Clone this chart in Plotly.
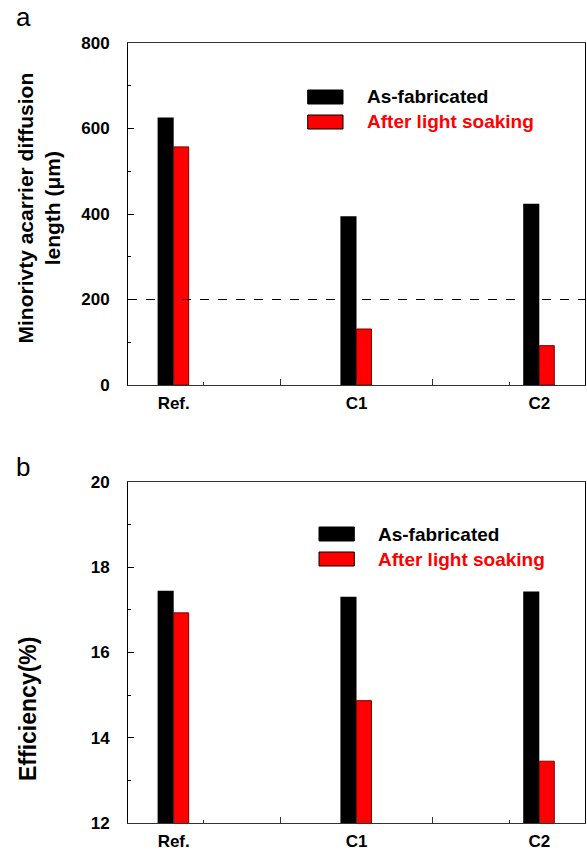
import numpy as np
import plotly.graph_objects as go

categories = ["Ref.", "C1", "C2"]
diff_as_fab = [626, 395, 424]
diff_after = [557, 131, 92]
eff_as_fab = [17.45, 17.31, 17.43]
eff_after = [16.93, 14.87, 13.45]
series_names = ["As-fabricated", "After light soaking"]
diff_ticks = [0, 200, 400, 600, 800]
eff_ticks = [12, 14, 16, 18, 20]
threshold = 200

xpos = [1, 2, 3]
W = 587
H = 853
FONT = "Liberation Sans, Arial, sans-serif"

fig = go.Figure()

def add_bars(xa, ya, black_vals, red_vals):
    fig.add_trace(go.Bar(x=xpos, y=black_vals, width=0.088, offset=-0.088,
                         marker=dict(color="black", line=dict(width=0)),
                         xaxis=xa, yaxis=ya, showlegend=False, name=series_names[0]))
    fig.add_trace(go.Bar(x=xpos, y=red_vals, width=0.082, offset=0,
                         marker=dict(color="#ff0000", line=dict(color="#7a0000", width=1)),
                         xaxis=xa, yaxis=ya, showlegend=False, name=series_names[1]))

add_bars("x", "y", diff_as_fab, diff_after)
add_bars("x2", "y2", eff_as_fab, eff_after)

dom_a = [1 - 385 / H, 1 - 43 / H]
dom_b = [1 - 823 / H, 1 - 482 / H]
xr = [0.75, 3.25]

xcommon = dict(range=xr, showline=True, linecolor="#333", linewidth=1, mirror=True,
               ticks="inside", ticklen=6, tickcolor="#333",
               tickvals=[1, 1.585, 2, 2.416, 3],
               ticktext=["Ref.", "", "C1", "", "C2"],
               tickfont=dict(family=FONT, size=17, color="black", weight="bold"),
               ticklabelstandoff=3,
               minor=dict(tickmode="array", tickvals=[1.161, 2.835], ticks="inside", ticklen=3, tickcolor="#333"),
               showgrid=False, zeroline=False, fixedrange=True, automargin=False)

toptick = dict(range=xr, showline=False, ticks="inside", ticklen=3, tickcolor="#333",
               tickvals=list(np.arange(1, 3.01, 0.25)), showticklabels=False,
               showgrid=False, zeroline=False, side="top", automargin=False)

def ycommon(rng, tv, minor_d):
    return dict(range=rng, showline=True, linecolor="black", linewidth=1, mirror=True,
                ticks="inside", ticklen=6, tickcolor="black", tickvals=tv,
                minor=dict(dtick=minor_d, ticks="inside", ticklen=3, tickcolor="black"),
                tickfont=dict(family=FONT, size=17, color="black", weight="bold"),
                ticklabelstandoff=14,
                showgrid=False, zeroline=False, fixedrange=True, automargin=False)

fig.update_layout(
    width=W, height=H,
    margin=dict(l=128, r=2, t=0, b=0, autoexpand=False),
    plot_bgcolor="white", paper_bgcolor="white",
    barmode="overlay",
    showlegend=False,
    xaxis=dict(domain=[0, 1], anchor="y", **xcommon),
    yaxis=dict(domain=dom_a, anchor="x", **ycommon([0, 800], diff_ticks, 100)),
    xaxis2=dict(domain=[0, 1], anchor="y2", **xcommon),
    yaxis2=dict(domain=dom_b, anchor="x2", **ycommon([12, 20], eff_ticks, 1)),
    xaxis3=dict(overlaying="x", anchor="y", **toptick),
    xaxis4=dict(overlaying="x2", anchor="y2", **toptick),
)

# dashed threshold line
fig.add_shape(type="line", xref="x domain", yref="y", x0=0, x1=1, y0=threshold, y1=threshold,
              line=dict(color="black", width=1, dash="dash"))

plot_w = W - 130
def px_x(px):
    return (px - 128) / plot_w

def px_y(py):
    return 1 - py / H

# axis titles
fig.add_annotation(text="Minorivty acarrier diffusion<br>length (μm)", xref="paper", yref="paper",
                   x=px_x(38.5), y=px_y(208), textangle=-90, xanchor="center", yanchor="middle",
                   showarrow=False, font=dict(family=FONT, size=21, color="black", weight="bold"))
fig.add_annotation(text="Efficiency(%)", xref="paper", yref="paper",
                   x=px_x(28), y=px_y(709), textangle=-90, xanchor="center", yanchor="middle",
                   showarrow=False, font=dict(family=FONT, size=23, color="black", weight="bold"))

# panel letters
for txt, ypix in [("a", 17), ("b", 467)]:
    fig.add_annotation(text=txt, xref="paper", yref="paper", x=px_x(14), y=px_y(ypix),
                       xanchor="left", yanchor="middle", showarrow=False,
                       font=dict(family=FONT, size=26, color="black"))

# custom legends (paper coordinates)
legend_specs = [
    (307.7, 343, 90, 104, 365, "black"),
    (307.7, 343, 115, 129, 365, "#ff0000"),
    (319, 354.3, 527, 541, 376, "black"),
    (319, 354.3, 552, 566, 376, "#ff0000"),
]
names_cycle = [series_names[0], series_names[1], series_names[0], series_names[1]]
for (x0, x1, y0, y1, tx, col), nm in zip(legend_specs, names_cycle):
    fig.add_shape(type="rect", xref="paper", yref="paper",
                  x0=px_x(x0), x1=px_x(x1), y0=px_y(y1), y1=px_y(y0),
                  fillcolor=col, line=dict(color="black", width=1))
    fig.add_annotation(text=nm, xref="paper", yref="paper", x=px_x(tx), y=px_y((y0 + y1) / 2),
                       xanchor="left", yanchor="middle", showarrow=False,
                       font=dict(family=FONT, size=19, color=col, weight="bold"))

fig.write_html("out.html", config={"displayModeBar": False},
               post_script="document.body.style.margin='0';document.body.style.overflow='hidden';")
